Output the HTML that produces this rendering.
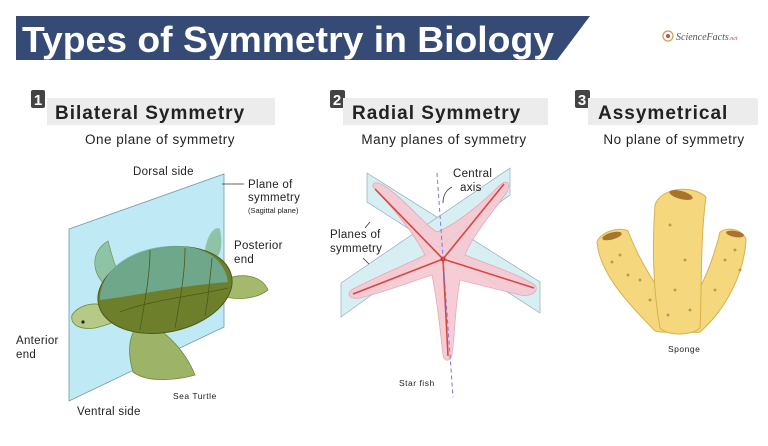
<!DOCTYPE html>
<html><head><meta charset="utf-8"><style>
html,body{margin:0;padding:0;background:#fff;}
svg{display:block;font-family:"Liberation Sans",sans-serif;}
</style></head><body>
<svg width="768" height="446" viewBox="0 0 768 446" xmlns="http://www.w3.org/2000/svg">
<rect width="768" height="446" fill="#fff"/>
<!-- banner -->
<polygon points="16,16 590,16 557,60 16,60" fill="#354a75"/>
<text x="22" y="52" fill="#fff" font-weight="bold" font-size="36" textLength="532" lengthAdjust="spacingAndGlyphs">Types of Symmetry in Biology</text>
<!-- logo -->
<circle cx="668" cy="36" r="5" fill="none" stroke="#c9a24a" stroke-width="1.2"/>
<circle cx="668" cy="36" r="2" fill="#d44"/>
<text x="676" y="40" font-size="10" fill="#555" font-family="Liberation Serif,serif" font-style="italic">ScienceFacts<tspan font-size="6" fill="#d44">.net</tspan></text>

<!-- headings -->
<rect x="31" y="90" width="14" height="18" rx="2" fill="#444"/><text x="38" y="105" fill="#fff" font-size="15" font-weight="bold" text-anchor="middle">1</text>
<rect x="47" y="98" width="228" height="27" fill="#ececec"/>
<text x="55" y="119" font-size="19" font-weight="bold" fill="#222" letter-spacing="1">Bilateral Symmetry</text>
<text x="160" y="144" font-size="13.5" fill="#222" text-anchor="middle" letter-spacing="0.5">One plane of symmetry</text>

<rect x="330" y="90" width="15" height="18" rx="2" fill="#444"/><text x="337" y="105" fill="#fff" font-size="15" font-weight="bold" text-anchor="middle">2</text>
<rect x="343" y="98" width="205" height="27" fill="#ececec"/>
<text x="352" y="119" font-size="19" font-weight="bold" fill="#222" letter-spacing="1">Radial Symmetry</text>
<text x="444" y="144" font-size="13.5" fill="#222" text-anchor="middle" letter-spacing="0.5">Many planes of symmetry</text>

<rect x="575" y="90" width="15" height="18" rx="2" fill="#444"/><text x="582" y="105" fill="#fff" font-size="15" font-weight="bold" text-anchor="middle">3</text>
<rect x="588" y="98" width="170" height="27" fill="#ececec"/>
<text x="598" y="119" font-size="19" font-weight="bold" fill="#222" letter-spacing="1">Assymetrical</text>
<text x="674" y="144" font-size="13.5" fill="#222" text-anchor="middle" letter-spacing="0.5">No plane of symmetry</text>

<!-- turtle -->
<polygon points="69,229 224,174 224,327 69,401" fill="#bfe9f4" stroke="#6f9aa8" stroke-width="0.8"/>
<path d="M133,372 C125,345 132,325 145,322 C165,330 185,350 195,375 C185,378 150,385 133,372Z" fill="#9cb368" stroke="#6f8a3a" stroke-width="0.8"/>
<path d="M225,280 C240,272 262,275 268,290 C255,300 235,300 222,296Z" fill="#a5b96d" stroke="#6f8a3a" stroke-width="0.8"/>
<path d="M105,285 C90,270 92,250 108,241 C112,255 115,270 125,283Z" fill="#8fc3a5" stroke="#6f8a3a" stroke-width="0.6"/>
<path d="M205,250 C207,235 215,225 220,229 C222,240 222,250 218,256Z" fill="#8fc3a5"/>
<path d="M112,310 C100,300 80,303 72,315 C70,325 80,330 95,328 C108,325 120,320 125,315Z" fill="#b7c987" stroke="#6f8a3a" stroke-width="0.8"/>
<circle cx="83" cy="322" r="1.6" fill="#222"/>
<ellipse cx="165" cy="290" rx="68" ry="42" transform="rotate(-12 165 290)" fill="#6d7f2b" stroke="#4b5a18"/>
<path d="M100,300 C100,270 130,248 170,246 C205,244 225,260 228,282 C185,285 140,295 100,300Z" fill="#6fae9a" opacity="0.85"/>
<g stroke="#4b5a18" stroke-width="0.8" fill="none"><path d="M120,312 C150,300 200,295 228,288"/><path d="M140,330 C145,300 150,275 150,250"/><path d="M175,328 C180,300 185,275 185,248"/><path d="M205,316 C208,300 210,280 212,258"/></g>
<line x1="222" y1="184" x2="244" y2="184" stroke="#333" stroke-width="0.8"/>
<g font-size="11.5" fill="#222" letter-spacing="0.3">
<text x="133" y="175">Dorsal side</text>
<text x="248" y="188">Plane of</text><text x="248" y="201">symmetry</text>
<text x="234" y="249">Posterior</text><text x="234" y="263">end</text>
<text x="16" y="344">Anterior</text><text x="16" y="358">end</text>
<text x="77" y="415">Ventral side</text>
</g>
<text x="248" y="213" font-size="7.5" fill="#222">(Sagittal plane)</text>
<text x="173" y="399" font-size="8.5" fill="#222" letter-spacing="0.5">Sea Turtle</text>

<!-- starfish -->
<polygon points="367,173 540,282 540,313 367,202" fill="#d7eff3" stroke="#8fb0b8" stroke-width="0.7"/>
<polygon points="510,168 510,195 341,317 341,283" fill="#d7eff3" stroke="#8fb0b8" stroke-width="0.7"/>
<path d="M373,187 C372,180 380,182 390,190 C410,205 425,225 437,232 C455,225 480,205 500,185 C508,178 512,185 505,195 C490,215 470,240 465,255 C490,265 520,275 535,285 C540,292 530,297 520,295 C500,290 480,285 460,280 C455,305 455,335 452,355 C450,362 444,362 443,355 C440,330 438,305 432,275 C410,282 385,292 360,298 C348,300 345,292 355,288 C380,275 405,265 425,255 C415,235 395,210 373,187Z" fill="#f6c8d1" stroke="#e7a0ae" stroke-width="0.8" opacity="0.9"/>
<g stroke="#d9473f" stroke-width="1.6"><line x1="443" y1="259" x2="375" y2="189"/><line x1="443" y1="259" x2="504" y2="184"/><line x1="443" y1="259" x2="353" y2="294"/><line x1="443" y1="259" x2="534" y2="288"/><line x1="443" y1="259" x2="448" y2="356"/></g>
<circle cx="443" cy="259" r="2.5" fill="#c33"/>
<line x1="437" y1="173" x2="453" y2="397" stroke="#7a78e0" stroke-width="1" stroke-dasharray="4,3"/>
<path d="M452,187 C446,190 443,196 443,203" stroke="#333" fill="none" stroke-width="0.8"/>
<path d="M365,228 L370,222 M363,258 L369,264" stroke="#333" stroke-width="0.8"/>
<g font-size="11.5" fill="#222" letter-spacing="0.3">
<text x="453" y="177">Central</text><text x="460" y="191">axis</text>
<text x="330" y="238">Planes of</text><text x="330" y="252">symmetry</text>
</g>
<text x="399" y="386" font-size="8.5" fill="#222" letter-spacing="0.5">Star fish</text>

<!-- sponge -->
<g fill="#f5d77d" stroke="#d8b14d" stroke-width="1">
<path d="M597,242 C600,232 620,226 628,231 C640,262 658,292 684,322 C680,332 668,334 655,331 C630,305 600,275 597,242Z"/>
<path d="M720,232 C728,226 744,230 746,240 C744,275 725,310 700,332 C690,334 678,328 676,322 C700,295 712,265 720,232Z"/>
<path d="M655,205 C660,188 692,184 706,197 C700,240 702,290 700,328 C690,336 668,336 660,328 C653,290 652,245 655,205Z"/>
</g>
<g fill="#a8742d"><ellipse cx="612" cy="236" rx="10" ry="3.5" transform="rotate(-15 612 236)"/><ellipse cx="681" cy="195" rx="12" ry="4" transform="rotate(15 681 195)"/><ellipse cx="735" cy="234" rx="9" ry="3" transform="rotate(10 735 234)"/></g>
<g fill="#c29a4a"><circle cx="620" cy="255" r="1.5"/><circle cx="640" cy="280" r="1.5"/><circle cx="650" cy="300" r="1.5"/><circle cx="628" cy="275" r="1.5"/><circle cx="670" cy="225" r="1.5"/><circle cx="685" cy="260" r="1.5"/><circle cx="675" cy="290" r="1.5"/><circle cx="690" cy="310" r="1.5"/><circle cx="668" cy="315" r="1.5"/><circle cx="725" cy="260" r="1.5"/><circle cx="715" cy="290" r="1.5"/><circle cx="735" cy="250" r="1.5"/><circle cx="612" cy="262" r="1.5"/><circle cx="740" cy="270" r="1.5"/></g>
<text x="668" y="352" font-size="8.5" fill="#222" letter-spacing="0.5">Sponge</text>
</svg>
</body></html>
